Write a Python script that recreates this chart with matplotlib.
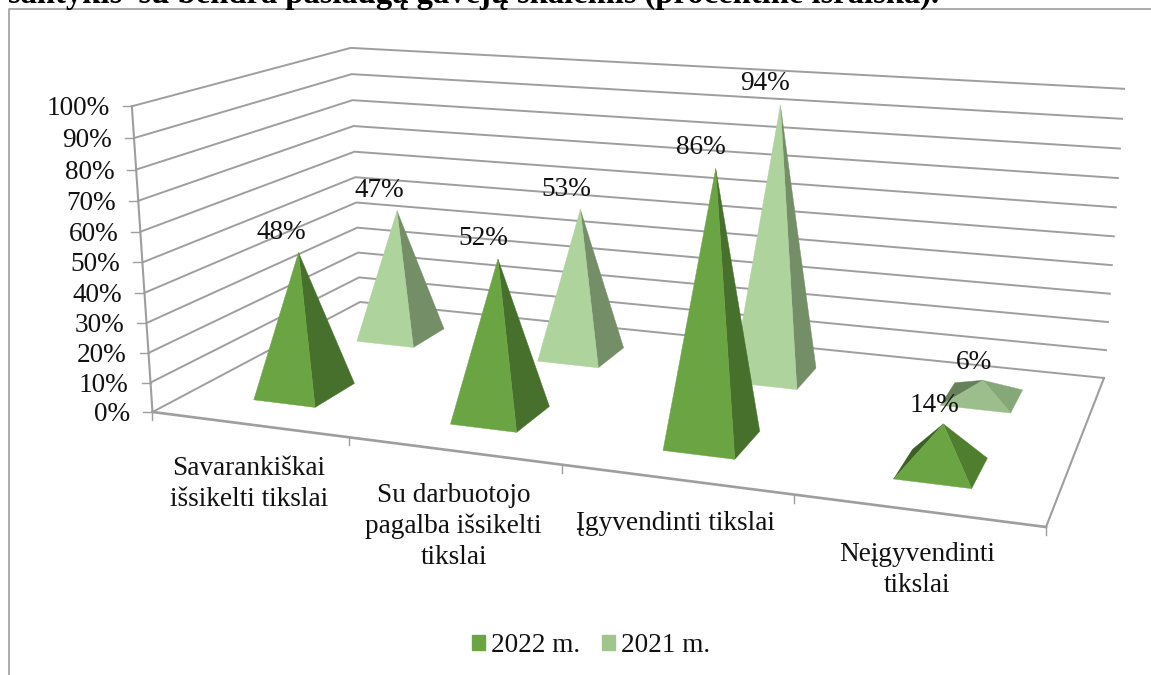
"""
3D pyramid chart redrawn on a flat axes: floor and walls go through a small
perspective camera, pyramids are built from the values.
"""
import numpy as np
import matplotlib
matplotlib.use('Agg')
import matplotlib.pyplot as plt
from matplotlib.patches import Patch, Polygon

categories = ['Savarankiškai\nišsikelti tikslai', 'Su darbuotojo\npagalba išsikelti\ntikslai',
              'Įgyvendinti tikslai', 'Neįgyvendinti\ntikslai']
values_2022 = [48, 52, 86, 14]
values_2021 = [47, 53, 94, 6]
series_names = ['2022 m.', '2021 m.']
y_ticks = [0, 10, 20, 30, 40, 50, 60, 70, 80, 90, 100]
title_text = 'santykis  su bendra paslaugą gavėjų skalėmis (procentinė išraiška).'

W, H = 1151, 675
GRID, TEXT = '#9e9e9e', '#111111'
FS = 19.6

# picture corners of the floor: front-left, front-right, back-right, back-left
FLOOR = [(152.5, 412), (1046, 527), (1104, 378), (360, 302)]
# where the 100% level sits above three of them: (u, v) -> picture
TOPS = [((0, 0), (131.5, 107)), ((0, 1), (351, 48)), ((1, 1), (1124, 88))]

# depth slots and width of the pyramids on the floor
SLOT = {'2022': (0.155, 0.345), '2021': (0.66, 0.84)}
HALF = 0.16
LABEL_DX = [-17.5, -14.5, -15, -8.5]
LABEL_DY = [-20, -20, -21, -18]

PALETTE = {  # front, right, left
    '2022': ('#6ba543', '#48702d', '#3b5f24'),
    '2021': ('#aed39c', '#748e68', '#66805a'),
}
FLAT = {
    '2022': ('#6ba543', '#4f7f2e', '#3b5f24'),
    '2021': ('#9cbe8c', '#86a878', '#66805a'),
}


def homography(pts):
    src = [(0, 0), (1, 0), (1, 1), (0, 1)]
    a, b = [], []
    for (u, v), (x, y) in zip(src, pts):
        a.append([u, v, 1, 0, 0, 0, -u*x, -v*x]); b.append(x)
        a.append([0, 0, 0, u, v, 1, -u*y, -v*y]); b.append(y)
    return np.append(np.linalg.solve(np.array(a, float), np.array(b, float)), 1).reshape(3, 3)


H0 = homography(FLOOR)


def height_column(tops):
    # last camera column, fitted so the 100% level lands on the given corners
    a, b = [], []
    for (u, v), (x, y) in tops:
        h = H0 @ np.array([u, v, 1.0])
        a.append([1, 0, -x]); b.append(x * h[2] - h[0])
        a.append([0, 1, -y]); b.append(y * h[2] - h[1])
    return np.linalg.lstsq(np.array(a, float), np.array(b, float), rcond=None)[0]


P3 = height_column(TOPS)


def project(cat, depth, pct):
    """cat in 0..4 along the front, depth 0..1, pct 0..100"""
    p = H0 @ np.array([cat / len(categories), depth, 1.0]) + P3 * pct / 100
    return p[:2] / p[2]


def area(pts):
    x, y = np.array(pts).T
    return 0.5 * np.sum(x * np.roll(y, -1) - np.roll(x, -1) * y)


def pyramid(ax, cat, slot, value, name, z):
    d0, d1 = slot
    c0, c1 = cat + 0.5 - HALF, cat + 0.5 + HALF
    fl, fr = project(c0, d0, 0), project(c1, d0, 0)
    br, bl = project(c1, d1, 0), project(c0, d1, 0)
    top = project(cat + 0.5, (d0 + d1) / 2, value)
    cols = FLAT[name] if value < 20 else PALETTE[name]
    faces = [((bl, fl, top), cols[2]), ((fr, br, top), cols[1]), ((fl, fr, top), cols[0])]
    for pts, col in faces:
        # y runs downward here, so outward faces have this sign
        if area(pts) < 0:
            ax.add_patch(Polygon(pts, closed=True, fc=col, ec=col, lw=0.3, zorder=z))
    return top


plt.rcParams['font.family'] = ['Liberation Serif', 'DejaVu Serif']
fig = plt.figure(figsize=(W / 100, H / 100), dpi=100, facecolor='white')
ax = fig.add_axes([0, 0, 1, 1])
ax.set_xlim(0, W); ax.set_ylim(H, 0)
ax.axis('off')

# chart frame, only top and left are inside the crop
ax.plot([9.5, 9.5, W], [H, 9, 9], color=GRID, lw=1.2, zorder=1)

fig.text(8 / W, 1 - 3 / H, title_text, fontsize=23.5, fontweight='bold', color='black',
         ha='left', va='baseline')

# walls and floor
for t in y_ticks:
    pts = np.array([project(0, 0, t), project(0, 1, t), project(4, 1, t)])
    ax.plot(pts[:, 0], pts[:, 1], color=GRID, lw=1.4, zorder=2)
    p = pts[0]
    ax.plot([p[0] - 9, p[0]], [p[1], p[1]], color=GRID, lw=1.0, zorder=2)
    ax.text(p[0] - 22, p[1] + 2.5, f'{t}%', ha='right', va='center', fontsize=FS, color=TEXT, zorder=6)

a0, a1 = project(0, 0, 0), project(0, 0, 100)
ax.plot([a0[0], a1[0]], [a0[1], a1[1]], color=GRID, lw=1.5, zorder=2)
b0, b1 = project(0, 0, 0), project(4, 0, 0)
ax.plot([b0[0], b1[0]], [b0[1], b1[1]], color=GRID, lw=1.9, zorder=2)
c0, c1 = project(4, 0, 0), project(4, 1, 0)
ax.plot([c0[0], c1[0]], [c0[1], c1[1]], color=GRID, lw=1.5, zorder=2)

# category ticks and labels
for i in range(len(categories) + 1):
    p = project(i, 0, 0)
    ax.plot([p[0], p[0]], [p[1], p[1] + 8], color=GRID, lw=1.0, zorder=2)
for i, lab in enumerate(categories):
    p = project(i + 0.5, 0, 0)
    ax.text(p[0], p[1] + 32, lab, ha='center', va='top', fontsize=FS, color=TEXT,
            linespacing=1.31, zorder=6)

# rear series first so the front row covers it
tops = []
for name, vals, z in [('2021', values_2021, 3), ('2022', values_2022, 4)]:
    for i, v in enumerate(vals):
        top = pyramid(ax, i, SLOT[name], v, name, z)
        tops.append((top, v, i))

for top, v, i in tops:
    ax.text(top[0] + LABEL_DX[i], top[1] + LABEL_DY[i], f'{v}%', ha='center', va='center', fontsize=FS,
            color=TEXT, zorder=6)

handles = [Patch(color='#6ba543', label=series_names[0]), Patch(color='#a0c68e', label=series_names[1])]
ax.legend(handles=handles, ncol=2, loc='center', bbox_to_anchor=(591, 646),
          bbox_transform=ax.transData, frameon=False, fontsize=FS, labelcolor=TEXT,
          handlelength=0.48, handleheight=0.48, handletextpad=0.22, columnspacing=0.8,
          borderpad=0, borderaxespad=0)

fig.savefig('out.png', dpi=100, facecolor='white')
plt.close(fig)
